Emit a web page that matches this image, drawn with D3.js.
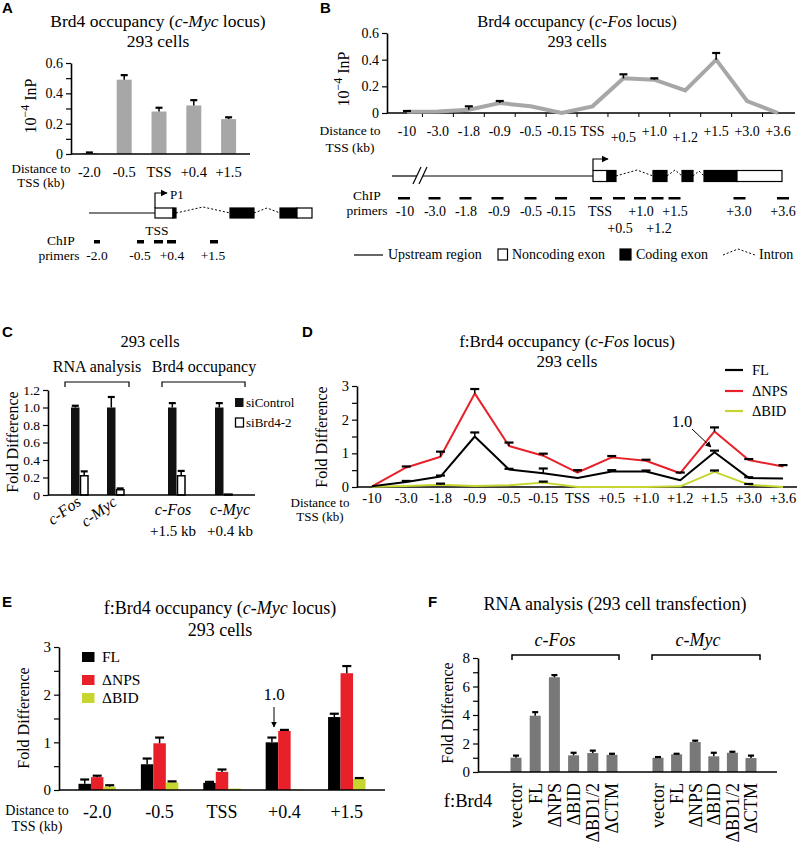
<!DOCTYPE html>
<html><head><meta charset="utf-8">
<script src="https://cdn.jsdelivr.net/npm/d3@7"></script>
<style>
body{margin:0;background:#fff;}
svg{display:block;}
</style></head><body>
<svg id="fig" width="800" height="843"></svg>
<script>
// ================= DATA =================
// Panel A : Brd4 occupancy, c-Myc locus
const aCategories = ["-2.0","-0.5","TSS","+0.4","+1.5"];
const aValues = [0.006,0.49,0.28,0.32,0.23];
const aErrors = [0.004,0.03,0.025,0.035,0.012];
const aTicks = [0,0.1,0.2,0.3,0.4,0.5,0.6];
const aTickLabels = [0,0.2,0.4,0.6];

// Panel B : Brd4 occupancy, c-Fos locus
const bCategories = ["-10","-3.0","-1.8","-0.9","-0.5","-0.15","TSS","+0.5","+1.0","+1.2","+1.5","+3.0","+3.6"];
const bValues = [0.01,0.012,0.025,0.075,0.05,0.0,0.05,0.26,0.25,0.17,0.40,0.09,0.0];
const bErrors = [0.005,0,0.025,0.015,0,0,0,0.03,0.01,0,0.05,0,0];
const bTicks = [0,0.2,0.4,0.6];
const bLowLabels = ["+0.5","+1.2"];

// Panel C : siRNA knockdown
const cRnaGenes = ["c-Fos","c-Myc"];
const cRnaSiControl = [1.0,1.0];
const cRnaSiControlErr = [0.02,0.12];
const cRnaSiBrd4 = [0.22,0.06];
const cRnaSiBrd4Err = [0.05,0.015];
const cOccGenes = ["c-Fos","c-Myc"];
const cOccSites = ["+1.5 kb","+0.4 kb"];
const cOccSiControl = [1.0,1.0];
const cOccSiControlErr = [0.05,0.05];
const cOccSiBrd4 = [0.22,0.01];
const cOccSiBrd4Err = [0.055,0];
const cTicks = [0,0.2,0.4,0.6,0.8,1.0,1.2];
const cSeries = ["siControl","siBrd4-2"];

// Panel D : f:Brd4 occupancy, c-Fos locus
const dCategories = ["-10","-3.0","-1.8","-0.9","-0.5","-0.15","TSS","+0.5","+1.0","+1.2","+1.5","+3.0","+3.6"];
const dSeries = ["FL","ΔNPS","ΔBID"];
const dFL = [0.02,0.15,0.31,1.5,0.52,0.41,0.27,0.46,0.46,0.2,1.03,0.27,0.25];
const dFLErr = [0,0.01,0.03,0.12,0.02,0.14,0,0.04,0.01,0,0.05,0.02,0];
const dNPS = [0.02,0.58,0.9,2.78,1.22,0.93,0.43,0.88,0.78,0.41,1.65,0.8,0.61];
const dNPSErr = [0,0.03,0.15,0.13,0.1,0.06,0.07,0.04,0.03,0.02,0.12,0.03,0.04];
const dBID = [0.01,0.03,0.07,0.03,0.05,0.13,0.0,0.0,0.0,0.02,0.45,0.07,0.0];
const dBIDErr = [0,0,0.03,0,0,0.03,0,0,0,0,0.04,0.02,0];
const dTicks = [0,0.5,1,1.5,2,2.5,3];
const dTickLabels = [0,1,2,3];

// Panel E : f:Brd4 occupancy, c-Myc locus
const eCategories = ["-2.0","-0.5","TSS","+0.4","+1.5"];
const eSeries = ["FL","ΔNPS","ΔBID"];
const eFL = [0.13,0.54,0.15,1.0,1.53];
const eFLErr = [0.09,0.12,0.01,0.1,0.07];
const eNPS = [0.27,0.98,0.38,1.24,2.45];
const eNPSErr = [0.03,0.12,0.05,0.01,0.15];
const eBID = [0.07,0.16,0.03,0.01,0.23];
const eBIDErr = [0.03,0.01,0,0,0.01];
const eTicks = [0,0.5,1,1.5,2,2.5,3];
const eTickLabels = [0,1,2,3];

// Panel F : RNA analysis (293 cell transfection)
const fConstructs = ["vector","FL","ΔNPS","ΔBID","ΔBD1/2","ΔCTM"];
const fFos = [1.0,3.95,6.65,1.17,1.33,1.2];
const fFosErr = [0.15,0.25,0.15,0.18,0.17,0.08];
const fMyc = [1.0,1.24,2.1,1.1,1.35,0.98];
const fMycErr = [0.05,0.04,0.1,0.25,0.03,0.17];
const fTicks = [0,1,2,3,4,5,6,7,8];
const fTickLabels = [0,2,4,6,8];

// ================= DRAWING =================
const SERIF = "'Liberation Serif','Times New Roman',serif";
const SANS = "'Liberation Sans',Arial,sans-serif";
const svg = d3.select("#fig");
const GRAY_A = "#a7a7a7", GRAY_F = "#787878";
const RED = "#e8202a", GREEN = "#c6d62e";

const defs = svg.append("defs");
defs.append("marker").attr("id","arr").attr("viewBox","0 0 10 10")
  .attr("refX",9).attr("refY",5).attr("markerWidth",6).attr("markerHeight",6)
  .attr("orient","auto").append("path").attr("d","M0,0L10,5L0,10z").attr("fill","#000");

function T(g,x,y,str,fs,anchor="middle",italic=false){
  const t=g.append("text").attr("x",x).attr("y",y).attr("font-size",fs)
    .attr("text-anchor",anchor).attr("font-family",SERIF).attr("fill","#000").text(str);
  if(italic) t.attr("font-style","italic");
  return t;
}
function R(g,x,y,parts,fs,anchor="middle"){
  const t=g.append("text").attr("x",x).attr("y",y).attr("font-size",fs)
    .attr("text-anchor",anchor).attr("font-family",SERIF).attr("fill","#000");
  parts.forEach(p=>{const s=t.append("tspan").text(p[0]); if(p[1]) s.attr("font-style","italic");});
  return t;
}
function letter(x,y,s){
  svg.append("text").attr("x",x).attr("y",y).attr("font-family",SANS).attr("font-weight","bold")
    .attr("font-size",15).text(s);
}
function yAxis(scale,x,ticks,labels,fmt,fs){
  const g=svg.append("g").attr("transform",`translate(${x},0)`)
    .call(d3.axisLeft(scale).tickValues(ticks).tickSizeInner(5).tickSizeOuter(0).tickPadding(3)
      .tickFormat(d=>labels.includes(d)?fmt(d):""));
  g.attr("font-family",SERIF).attr("font-size",fs);
  g.selectAll("text").attr("fill","#000");
  g.select(".domain").attr("stroke","#000").attr("stroke-width",1.6);
  g.selectAll(".tick line").attr("stroke","#000").attr("stroke-width",1.2);
  return g;
}
function xLine(x0,x1,y){
  svg.append("line").attr("x1",x0).attr("x2",x1).attr("y1",y).attr("y2",y)
    .attr("stroke","#000").attr("stroke-width",1.6);
}
function err(g,x,y0,y1,hw){
  if(Math.abs(y0-y1)<0.5) { y1=y0-1; }
  g.append("line").attr("x1",x).attr("x2",x).attr("y1",y0).attr("y2",y1).attr("stroke","#000").attr("stroke-width",1.5);
  g.append("line").attr("x1",x-hw).attr("x2",x+hw).attr("y1",y1).attr("y2",y1).attr("stroke","#000").attr("stroke-width",2.2);
}
function yLabel(x,y,str,fs){
  svg.append("text").attr("transform",`translate(${x},${y}) rotate(-90)`).attr("text-anchor","middle")
    .attr("font-family",SERIF).attr("font-size",fs).text(str);
}
function inpLabel(x,y,fs){
  const t=svg.append("text").attr("transform",`translate(${x},${y}) rotate(-90)`).attr("text-anchor","middle")
    .attr("font-family",SERIF).attr("font-size",fs);
  t.append("tspan").text("10");
  t.append("tspan").attr("dy",-7).attr("font-size",fs*0.75).text("−4");
  t.append("tspan").attr("dy",7).text(" InP");
}

// ---------------- Panel A ----------------
letter(2,13,"A");
R(svg,158,27,[["Brd4 occupancy (",0],["c-Myc",1],[" locus)",0]],17.5);
T(svg,158,47,"293 cells",17.5);
const yA=d3.scaleLinear().domain([0,0.6]).range([154,63]);
const xA=d3.scaleBand().domain(aCategories).range([72,246]).paddingInner(0.57).paddingOuter(0.285);
const gA=svg.append("g");
gA.selectAll("rect").data(aCategories).join("rect")
  .attr("x",d=>xA(d)).attr("width",xA.bandwidth())
  .attr("y",(d,i)=>yA(aValues[i])).attr("height",(d,i)=>yA(0)-yA(aValues[i]))
  .attr("fill",GRAY_A);
aCategories.forEach((c,i)=>err(gA,xA(c)+xA.bandwidth()/2,yA(aValues[i]),yA(aValues[i]+aErrors[i]),3.5));
yAxis(yA,71,aTicks,aTickLabels,d=>d===0?"0":d.toFixed(1),14);
xLine(71,250,yA(0));
aCategories.forEach(c=>T(svg,xA(c)+xA.bandwidth()/2,177,c,14.5));
inpLabel(36,106,16);
T(svg,41,173,"Distance to",13);
T(svg,41,187,"TSS (kb)",13);
// gene diagram A
(function(){
  const g=svg.append("g").attr("stroke","#000").attr("stroke-width",1.2);
  g.append("line").attr("x1",89).attr("x2",155).attr("y1",213).attr("y2",213);
  g.append("rect").attr("x",155).attr("y",208).attr("width",18).attr("height",10).attr("fill","#fff");
  g.append("rect").attr("x",173).attr("y",208).attr("width",3).attr("height",10).attr("fill","#000");
  g.append("path").attr("d","M176,213L203,207L230,213").attr("fill","none").attr("stroke-dasharray","2,2").attr("stroke-width",1);
  g.append("rect").attr("x",230).attr("y",208).attr("width",24).attr("height",10).attr("fill","#000");
  g.append("path").attr("d","M254,213L267,208L280,213").attr("fill","none").attr("stroke-dasharray","2,2").attr("stroke-width",1);
  g.append("rect").attr("x",280).attr("y",208).attr("width",17).attr("height",10).attr("fill","#000");
  g.append("rect").attr("x",297).attr("y",208).attr("width",15).attr("height",10).attr("fill","#fff");
  g.append("path").attr("d","M155,208V193H167").attr("fill","none").attr("marker-end","url(#arr)");
  T(svg,170,199,"P1",13,"start");
  T(svg,157,235,"TSS",13.5);
  [[94,6],[137,7],[154,9],[167,9],[210,8]].forEach(p=>svg.append("rect").attr("x",p[0]).attr("y",240).attr("width",p[1]).attr("height",3.5).attr("fill","#000"));
  T(svg,61,245,"ChIP",13.5); T(svg,59,260,"primers",13.5);
  [["-2.0",97],["-0.5",140],["+0.4",172],["+1.5",213]].forEach(p=>T(svg,p[1],260,p[0],13.5));
})();

// ---------------- Panel B ----------------
letter(320,13,"B");
R(svg,577,27,[["Brd4 occupancy (",0],["c-Fos",1],[" locus)",0]],16.5);
T(svg,577,47,"293 cells",16.5);
const yB=d3.scaleLinear().domain([0,0.6]).range([113,33]);
const xB=d3.scalePoint().domain(bCategories).range([407,778]);
yAxis(yB,387,bTicks,bTicks,d=>d===0?"0":d.toFixed(1),14);
xLine(387,795,yB(0));
bCategories.slice(1).forEach((c,i)=>{
  const m=(xB(c)+xB(bCategories[i]))/2;
  svg.append("line").attr("x1",m).attr("x2",m).attr("y1",yB(0)).attr("y2",yB(0)+4).attr("stroke","#000").attr("stroke-width",1);
});
const gB=svg.append("g");
gB.append("path").datum(bValues).attr("fill","none").attr("stroke",GRAY_A).attr("stroke-width",4)
  .attr("stroke-linejoin","miter")
  .attr("d",d3.line().x((d,i)=>xB(bCategories[i])).y(d=>yB(d)));
bCategories.forEach((c,i)=>{ if(bErrors[i]>0) err(gB,xB(c),yB(bValues[i]),yB(bValues[i]+bErrors[i]),4); });
bCategories.forEach(c=>T(svg,xB(c),bLowLabels.includes(c)?142:136,c,14));
inpLabel(349,79,16);
T(svg,350,135,"Distance to",13.5);
T(svg,350,152,"TSS (kb)",13.5);
// gene diagram B
(function(){
  const g=svg.append("g").attr("stroke","#000").attr("stroke-width",1.2);
  g.append("line").attr("x1",392).attr("x2",417).attr("y1",176).attr("y2",176);
  g.append("line").attr("x1",423).attr("x2",593).attr("y1",176).attr("y2",176);
  g.append("line").attr("x1",413).attr("x2",421).attr("y1",184).attr("y2",167);
  g.append("line").attr("x1",419).attr("x2",427).attr("y1",184).attr("y2",167);
  g.append("rect").attr("x",593).attr("y",170.5).attr("width",14).attr("height",11).attr("fill","#fff");
  g.append("rect").attr("x",607).attr("y",170.5).attr("width",9).attr("height",11).attr("fill","#000");
  g.append("path").attr("d","M616,176L637,170L653,176").attr("fill","none").attr("stroke-dasharray","2,2").attr("stroke-width",1);
  g.append("rect").attr("x",653).attr("y",170.5).attr("width",14).attr("height",11).attr("fill","#000");
  g.append("path").attr("d","M667,176L675,170L682,176").attr("fill","none").attr("stroke-dasharray","2,2").attr("stroke-width",1);
  g.append("rect").attr("x",682).attr("y",170.5).attr("width",11).attr("height",11).attr("fill","#000");
  g.append("path").attr("d","M693,176L699,171L704,176").attr("fill","none").attr("stroke-dasharray","2,2").attr("stroke-width",1);
  g.append("rect").attr("x",704).attr("y",170.5).attr("width",33).attr("height",11).attr("fill","#000");
  g.append("rect").attr("x",737).attr("y",170.5).attr("width",45).attr("height",11).attr("fill","#fff");
  g.append("path").attr("d","M593,170.5V159H608").attr("fill","none").attr("marker-end","url(#arr)");
  const dashes=[404,434.5,465.5,497.5,530.5,561,596,619,640,657.5,674.5,739.5,783];
  dashes.forEach(x=>svg.append("rect").attr("x",x-6).attr("y",197).attr("width",12).attr("height",2.5).attr("fill","#000"));
  T(svg,367,200,"ChIP",13.5); T(svg,367,215,"primers",13.5);
  [["-10",405],["-3.0",435],["-1.8",466],["-0.9",499],["-0.5",531],["-0.15",561],["TSS",600],["+1.0",641],["+1.5",675],["+3.0",739],["+3.6",783]]
    .forEach(p=>T(svg,p[1],216,p[0],14));
  [["+0.5",620],["+1.2",659]].forEach(p=>T(svg,p[1],233,p[0],14));
  // legend
  g.append("line").attr("x1",354).attr("x2",383).attr("y1",255).attr("y2",255);
  T(svg,388,259,"Upstream region",14,"start");
  g.append("rect").attr("x",498).attr("y",249).attr("width",9.5).attr("height",11).attr("fill","#fff");
  T(svg,512,259,"Noncoding exon",14,"start");
  g.append("rect").attr("x",620).attr("y",249).attr("width",11).attr("height",11).attr("fill","#000");
  T(svg,636,259,"Coding exon",14,"start");
  g.append("path").attr("d","M723,255L738,249L755,255").attr("fill","none").attr("stroke-dasharray","2,2").attr("stroke-width",1);
  T(svg,759,259,"Intron",14,"start");
})();

// ---------------- Panel C ----------------
letter(2,337,"C");
T(svg,150,347,"293 cells",16.5);
T(svg,97,372,"RNA analysis",16);
T(svg,204,372,"Brd4 occupancy",16);
svg.append("path").attr("d","M65,387V382H129V387").attr("fill","none").attr("stroke","#000").attr("stroke-width",1.2);
svg.append("path").attr("d","M162,387V382H245V387").attr("fill","none").attr("stroke","#000").attr("stroke-width",1.2);
const yC=d3.scaleLinear().domain([0,1.2]).range([495,390]);
const xCr=d3.scalePoint().domain(cRnaGenes).range([80,116]);
const xCo=d3.scalePoint().domain(cOccGenes).range([177,224]);
const gC=svg.append("g");
function cPair(cx,vc,ec,vb,eb){
  gC.append("rect").attr("x",cx-9).attr("width",8.5).attr("y",yC(vc)).attr("height",yC(0)-yC(vc)).attr("fill","#111");
  gC.append("rect").attr("x",cx+0.5).attr("width",7.5).attr("y",yC(vb)).attr("height",yC(0)-yC(vb)).attr("fill","#fff").attr("stroke","#000").attr("stroke-width",1.5);
  err(gC,cx-4.7,yC(vc),yC(vc+ec),3.5);
  if(eb>0) err(gC,cx+4.2,yC(vb),yC(vb+eb),3.5);
}
cRnaGenes.forEach((g,i)=>cPair(xCr(g),cRnaSiControl[i],cRnaSiControlErr[i],cRnaSiBrd4[i],cRnaSiBrd4Err[i]));
cOccGenes.forEach((g,i)=>cPair(xCo(g),cOccSiControl[i],cOccSiControlErr[i],cOccSiBrd4[i],cOccSiBrd4Err[i]));
yAxis(yC,48,cTicks,cTicks,d=>d===0?"0":d.toFixed(1),13.5);
xLine(48,255,yC(0));
cRnaGenes.forEach(g=>{
  svg.append("text").attr("transform",`translate(${xCr(g)+2},504) rotate(-36)`).attr("text-anchor","end")
   .attr("font-family",SERIF).attr("font-style","italic").attr("font-size",16).text(g);
});
const cLabelShift=[-4,6];
cOccGenes.forEach((g,i)=>{ T(svg,xCo(g)+cLabelShift[i],515,g,16,"middle",true); T(svg,xCo(g)+cLabelShift[i],536,cOccSites[i],15); });
// legend C
svg.append("rect").attr("x",235).attr("y",398).attr("width",8.5).attr("height",9).attr("fill","#111");
T(svg,246,407,cSeries[0],13,"start");
svg.append("rect").attr("x",235.5).attr("y",418).attr("width",8).attr("height",9).attr("fill","#fff").attr("stroke","#000").attr("stroke-width",1.3);
T(svg,246,427,cSeries[1],13,"start");
yLabel(18,442,"Fold Difference",16);

// ---------------- Panel D ----------------
letter(302,337,"D");
R(svg,567,347,[["f:Brd4 occupancy (",0],["c-Fos",1],[" locus)",0]],17);
T(svg,567,367,"293 cells",17);
const yD=d3.scaleLinear().domain([0,3]).range([487,386]);
const xD=d3.scalePoint().domain(dCategories).range([372,783]);
yAxis(yD,357,dTicks,dTickLabels,d=>String(d),14.5);
xLine(357,797,yD(0));
const gD=svg.append("g");
const dData=[[dFL,dFLErr,"#000"],[dNPS,dNPSErr,RED],[dBID,dBIDErr,GREEN]];
const lineD=d3.line().x((d,i)=>xD(dCategories[i])).y(d=>yD(d));
[...dData].reverse().forEach(s=>{
  gD.append("path").datum(s[0]).attr("fill","none").attr("stroke",s[2]).attr("stroke-width",2)
    .attr("stroke-linejoin","round").attr("d",lineD);
});
dData.forEach(s=>dCategories.forEach((c,i)=>{ if(s[1][i]>0) err(gD,xD(c),yD(s[0][i]),yD(s[0][i]+s[1][i]),4.5); }));
dCategories.forEach(c=>T(svg,xD(c),503,c,14.5));
T(svg,320,507,"Distance to",13);
T(svg,320,521,"TSS (kb)",13);
yLabel(327,437,"Fold Difference",16);
dSeries.forEach((s,i)=>{
  const y=[370,391,411][i];
  svg.append("line").attr("x1",725).attr("x2",743).attr("y1",y).attr("y2",y).attr("stroke",dData[i][2]).attr("stroke-width",2.2);
  T(svg,752,y+5,s,14.5,"start");
});
T(svg,682,427,"1.0",16.5);
svg.append("line").attr("x1",692).attr("y1",429).attr("x2",711).attr("y2",447).attr("stroke","#000").attr("stroke-width",1).attr("marker-end","url(#arr)");

// ---------------- Panel E ----------------
letter(2,607,"E");
R(svg,220,614,[["f:Brd4 occupancy (",0],["c-Myc",1],[" locus)",0]],18);
T(svg,220,636,"293 cells",18);
const yE=d3.scaleLinear().domain([0,3]).range([790,647]);
const xE=d3.scaleBand().domain(eCategories).range([66,378]).paddingInner(0.4).paddingOuter(0.2);
const xE1=d3.scaleBand().domain(eSeries).range([0,xE.bandwidth()]);
const eData=[[eFL,eFLErr,"#000"],[eNPS,eNPSErr,RED],[eBID,eBIDErr,GREEN]];
const gE=svg.append("g");
eSeries.forEach((s,k)=>{
  gE.selectAll(null).data(eCategories).join("rect")
    .attr("x",d=>xE(d)+xE1(s)).attr("width",xE1.bandwidth())
    .attr("y",(d,i)=>yE(eData[k][0][i])).attr("height",(d,i)=>yE(0)-yE(eData[k][0][i]))
    .attr("fill",eData[k][2]);
});
eSeries.forEach((s,k)=>eCategories.forEach((c,i)=>{
  if(eData[k][1][i]>0) err(gE,xE(c)+xE1(s)+xE1.bandwidth()/2,yE(eData[k][0][i]),yE(eData[k][0][i]+eData[k][1][i]),4.5);
}));
yAxis(yE,59,eTicks,eTickLabels,d=>String(d),15);
xLine(59,385,yE(0));
eCategories.forEach(c=>T(svg,xE(c)+xE.bandwidth()/2,818,c,18));
T(svg,37,815,"Distance to",14);
T(svg,37,831,"TSS (kb)",14);
yLabel(29,718,"Fold Difference",16);
eSeries.forEach((s,i)=>{
  const y=[652,675,693][i];
  svg.append("rect").attr("x",82).attr("y",y).attr("width",12.5).attr("height",10).attr("fill",eData[i][2]);
  T(svg,102,y+10,s,15.5,"start");
});
T(svg,274,700,"1.0",17);
svg.append("line").attr("x1",274).attr("x2",274).attr("y1",707).attr("y2",727).attr("stroke","#000").attr("stroke-width",1).attr("marker-end","url(#arr)");

// ---------------- Panel F ----------------
letter(428,607,"F");
T(svg,615,610,"RNA analysis (293 cell transfection)",18);
T(svg,555,646,"c-Fos",18,"middle",true);
T(svg,698,646,"c-Myc",18,"middle",true);
svg.append("path").attr("d","M512,660V655H619V660").attr("fill","none").attr("stroke","#000").attr("stroke-width",1.5);
svg.append("path").attr("d","M652,660V655H760V660").attr("fill","none").attr("stroke","#000").attr("stroke-width",1.5);
const yF=d3.scaleLinear().domain([0,8]).range([772,658]);
const xFf=d3.scalePoint().domain(fConstructs).range([516,612]);
const xFm=d3.scalePoint().domain(fConstructs).range([658,751]);
const gF=svg.append("g");
[[xFf,fFos,fFosErr],[xFm,fMyc,fMycErr]].forEach(([sx,vals,errs])=>{
  gF.selectAll(null).data(fConstructs).join("rect")
    .attr("x",d=>sx(d)-5.5).attr("width",11)
    .attr("y",(d,i)=>yF(vals[i])).attr("height",(d,i)=>yF(0)-yF(vals[i])).attr("fill",GRAY_F);
  fConstructs.forEach((c,i)=>err(gF,sx(c),yF(vals[i]),yF(vals[i]+errs[i]),3));
  fConstructs.forEach(c=>{
    svg.append("text").attr("transform",`translate(${sx(c)},783) rotate(-90)`).attr("text-anchor","end")
      .attr("dy","0.35em").attr("font-family",SERIF).attr("font-size",18).text(c);
  });
});
yAxis(yF,478,fTicks,fTickLabels,d=>String(d),15);
xLine(478,777,yF(0));
T(svg,468,807,"f:Brd4",18.5);
yLabel(453,713,"Fold Difference",16);
</script>
</body></html>
